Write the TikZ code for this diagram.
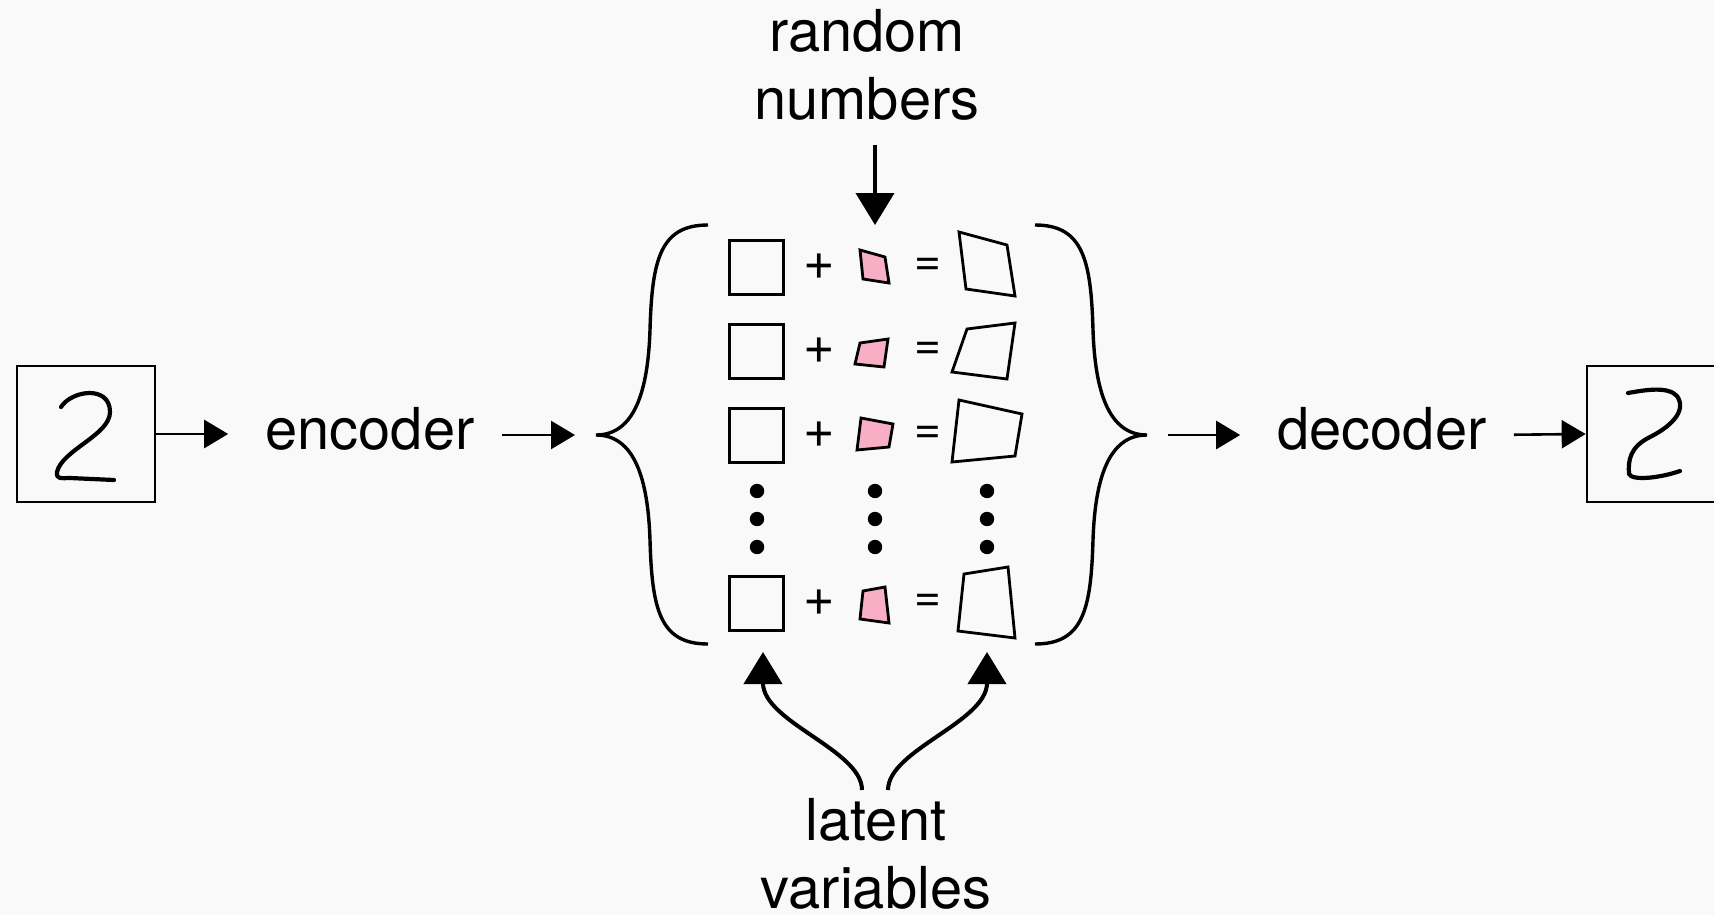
\documentclass[tikz,border=0pt]{standalone}
\usepackage{fontspec}
\setmainfont{TeX Gyre Heros}
\usetikzlibrary{arrows.meta,positioning,calc}
\definecolor{cBack}{HTML}{F9F9F9}
\definecolor{cNoise}{HTML}{F8AFC5}

\begin{document}
\begin{tikzpicture}[
    x=0.5pt, y=-0.5pt,
    digit/.style={draw, line width=1.35pt, minimum width=69pt, minimum height=68pt, inner sep=0pt},
    word/.style={inner sep=0pt, font=\fontsize{28.9}{34}\selectfont, align=center},
    mean/.style={draw, line width=1.5pt, minimum size=27pt, inner sep=0pt},
    noise/.style={fill=cNoise, draw, line width=1.4pt},
    sample/.style={draw, line width=1.4pt},
    brace/.style={line width=1.7pt},
    pen/.style={line width=2.1pt, line cap=round, line join=round},
    flow/.style={-{Triangle[length=12pt,width=14pt]}, line width=1.3pt},
    big/.style={-{Triangle[length=16pt,width=19pt]}, line width=2pt},
  ]
  \path[use as bounding box, fill=cBack] (0,0) rectangle (1714,915);
  \clip (0,0) rectangle (1714,915);

  \node[digit] (img) at (86,434) {};
  \node[digit] (rec) at (1656,434) {};
  \draw[pen] (61,407) .. controls (72,390) and (110,385) .. (110,412)
    .. controls (110,435) and (62,450) .. (57,472)
    .. controls (56,480) and (62,478) .. (70,478) -- (114,480);
  \draw[pen] (1628,393) .. controls (1645,390) and (1668,386) .. (1677,396)
    .. controls (1688,412) and (1668,428) .. (1650,437)
    .. controls (1630,447) and (1628,460) .. (1629,474)
    .. controls (1632,481) and (1660,478) .. (1680,471);

  \node[word, anchor=base] (enc) at (370,449) {encoder};
  \node[word, anchor=base] (dec) at (1382,449) {decoder};
  \node[word, anchor=north] (rnd) at (867,9) {random\\numbers};
  \node[word, anchor=north] (lat) at (876,798) {latent\\variables};

  \foreach \r/\y in {1/267,2/351,3/435,5/603} {
    \node[mean] (sq\r) at (756,\y) {};
    \node[inner sep=0pt, font=\fontsize{27}{27}\selectfont] (pl\r) at (819,\y) {+};
    \node[inner sep=0pt, font=\fontsize{23}{23}\selectfont] (eq\r) at (928,\y) {=};
  }
  \foreach \x in {757,875,987}
    \foreach \y in {491,519,547}
      \fill (\x,\y) circle (3.6pt);

  \filldraw[noise] (860,250) -- (885,257) -- (889,283) -- (863,279) -- cycle;
  \filldraw[noise] (860,343) -- (888,339) -- (884,367) -- (855,364) -- cycle;
  \filldraw[noise] (861,418) -- (893,424) -- (889,447) -- (857,450) -- cycle;
  \filldraw[noise] (863,591) -- (885,587) -- (889,623) -- (860,619) -- cycle;
  \draw[sample] (959,232) -- (1007,245) -- (1015,296) -- (966,289) -- cycle;
  \draw[sample] (967,329) -- (1015,323) -- (1007,379) -- (952,372) -- cycle;
  \draw[sample] (959,400) -- (1022,414) -- (1015,456) -- (952,462) -- cycle;
  \draw[sample] (964,574) -- (1008,567) -- (1015,638) -- (958,631) -- cycle;

  \coordinate (lb) at (596,435);
  \coordinate (rb) at (1147,435);
  \draw[brace] (708,225) .. controls (660,225) and (652,260) .. (650,330)
    .. controls (648,390) and (635,435) .. (lb)
    .. controls (635,435) and (648,480) .. (650,540)
    .. controls (652,610) and (660,644) .. (708,644);
  \draw[brace] (1035,225) .. controls (1083,225) and (1091,260) .. (1093,330)
    .. controls (1095,390) and (1108,435) .. (rb)
    .. controls (1108,435) and (1095,480) .. (1093,540)
    .. controls (1091,610) and (1083,644) .. (1035,644);

  \coordinate (rtip) at (875,225);
  \coordinate (lt1) at (763,652);
  \coordinate (lt2) at (987,652);

  \draw[flow, shorten >=18.5pt] (img.east) -- (img.east -| enc.west);
  \draw[flow, shorten <=13.5pt, shorten >=10.5pt] (lb -| enc.east) -- (lb);
  \draw[flow, shorten <=10.5pt, shorten >=18.5pt] (rb) -- (rb -| dec.west);
  \draw[flow, shorten <=13.5pt] (rb -| dec.east) -- (rec.west);
  \draw[big, shorten <=12pt] (rnd.south -| rtip) -- (rtip);
  \draw[big] ([xshift=-7pt,yshift=4pt]lat.north) .. controls +(0,-40) and +(0,70) .. (lt1);
  \draw[big] ([xshift=6pt,yshift=4pt]lat.north) .. controls +(0,-40) and +(0,70) .. (lt2);
\end{tikzpicture}
\end{document}
